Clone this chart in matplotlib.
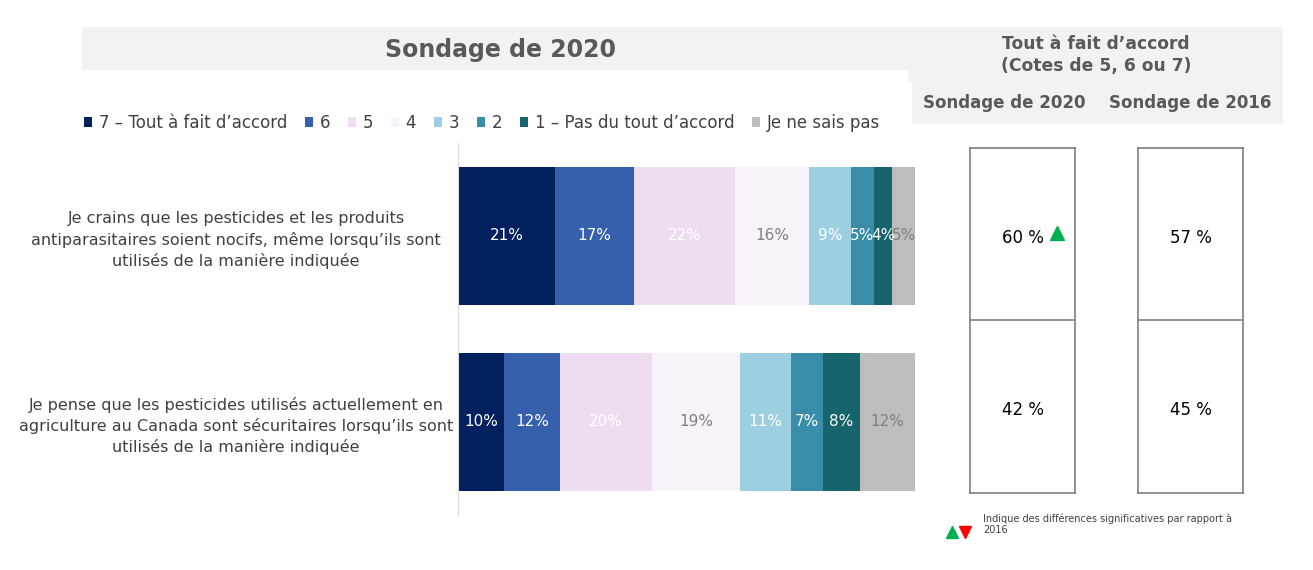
import matplotlib
matplotlib.use("Agg")
import matplotlib.pyplot as plt
from matplotlib.patches import Rectangle, Patch
from matplotlib.lines import Line2D

plt.rcParams['font.family'] = ['DejaVu Sans']

# ---------------- data ----------------
categories = [
    "Je crains que les pesticides et les produits\nantiparasitaires soient nocifs, même lorsqu’ils sont\nutilisés de la manière indiquée",
    "Je pense que les pesticides utilisés actuellement en\nagriculture au Canada sont sécuritaires lorsqu’ils sont\nutilisés de la manière indiquée",
]
levels = ["7 – Tout à fait d’accord", "6", "5", "4", "3", "2",
          "1 – Pas du tout d’accord", "Je ne sais pas"]
row1 = [21, 17, 22, 16, 9, 5, 4, 5]
row2 = [10, 12, 20, 19, 11, 7, 8, 12]
values = [row1, row2]
top3_2020 = [60, 42]
top3_2016 = [57, 45]
sig_2020 = ["up", None]

colors = ["#021F5E", "#3660AB", "#EEDCF1", "#F8F3FA", "#9CCFE1", "#3A8DA8", "#16656D", "#BDBDBD"]
label_colors = ["white", "white", "white", "#7F7F7F", "white", "white", "white", "#7F7F7F"]

W, H = 1313, 570
fig = plt.figure(figsize=(W / 100, H / 100), dpi=100)

def fx(px):
    return px / W

def fy(py):
    return 1 - py / H

# title boxes
fig.patches.append(Rectangle((fx(82), fy(70)), fx(908) - fx(82), fy(27) - fy(70),
                             transform=fig.transFigure, facecolor="#F2F2F2", edgecolor="none", zorder=0))
fig.patches.append(Rectangle((fx(908), fy(82)), fx(1283) - fx(908), fy(27) - fy(82),
                             transform=fig.transFigure, facecolor="#F2F2F2", edgecolor="none", zorder=0))
fig.patches.append(Rectangle((fx(912), fy(124)), fx(1283) - fx(912), fy(82) - fy(124),
                             transform=fig.transFigure, facecolor="#F2F2F2", edgecolor="none", zorder=0))

title_c = "#595959"
fig.text(fx(500), fy(50), "Sondage de 2020", ha="center", va="center",
         fontsize=17, fontweight="bold", color=title_c)
fig.text(fx(1096), fy(55), "Tout à fait d’accord\n(Cotes de 5, 6 ou 7)", ha="center", va="center",
         fontsize=12.3, fontweight="bold", color=title_c, linespacing=1.25)
fig.text(fx(1004), fy(103), "Sondage de 2020", ha="center", va="center",
         fontsize=12, fontweight="bold", color=title_c)
fig.text(fx(1190), fy(103), "Sondage de 2016", ha="center", va="center",
         fontsize=12, fontweight="bold", color=title_c)

# ---------------- stacked bars ----------------
ax = fig.add_axes([fx(458), fy(515), fx(920) - fx(458), fy(143) - fy(515)])
ypos = list(range(len(categories)))
for r, row in enumerate(values):
    left = 0
    for i, v in enumerate(row):
        ax.barh(ypos[r], v, left=left, height=0.737, color=colors[i], edgecolor="none")
        ax.text(left + v / 2, ypos[r], f"{v}%", ha="center", va="center",
                fontsize=11, color=label_colors[i])
        left += v
ax.set_xlim(0, 100)
ax.set_ylim(1.5, -0.5)
ax.set_xticks([])
ax.set_yticks(ypos)
ax.set_yticklabels(categories, fontsize=11.5, color="#404040", ha="center", linespacing=1.4)
ax.tick_params(axis="y", length=0, pad=(458 - 236) * 0.72)
for s in ["top", "right", "bottom"]:
    ax.spines[s].set_visible(False)
ax.spines["left"].set_color("#D9D9D9")

# legend
handles = [Patch(facecolor=c, edgecolor="none") for c in colors]
fig.legend(handles, levels, loc="center left", bbox_to_anchor=(fx(77), fy(123)), ncol=8,
           frameon=False, fontsize=12, labelcolor="#404040", handlelength=0.5, handleheight=0.5,
           handletextpad=0.4, columnspacing=1.05, borderaxespad=0)

# ---------------- summary boxes ----------------
def box(x0, x1, vals, sig):
    bax = fig.add_axes([fx(x0), fy(493), fx(x1) - fx(x0), fy(148) - fy(493)])
    bax.set_xlim(0, 1)
    bax.set_ylim(1.5, -0.5)
    bax.set_xticks([])
    bax.set_yticks([])
    for s in bax.spines.values():
        s.set_color("#7F7F7F")
        s.set_linewidth(1.2)
    bax.axhline(0.5, color="#7F7F7F", linewidth=1.2)
    for i, v in enumerate(vals):
        bax.text(0.5, i + 0.02, f"{v} %", ha="center", va="center", fontsize=12, color="black")
        if sig is not None and sig[i] == "up":
            bax.plot(0.83, i - 0.005, marker="^", markersize=10, color="#00B050", linestyle="none")
        elif sig is not None and sig[i] == "down":
            bax.plot(0.83, i - 0.005, marker="v", markersize=10, color="#FF0000", linestyle="none")

box(970, 1075, top3_2020, sig_2020)
box(1138, 1243, top3_2016, None)

# footnote
fig.text(fx(983), fy(524), "Indique des différences significatives par rapport à\n2016",
         ha="left", va="center", fontsize=7, color="#404040", linespacing=1.1)
fig.add_artist(Line2D([fx(952)], [fy(532)], marker="^", markersize=8, color="#00B050",
                      linestyle="none", transform=fig.transFigure))
fig.add_artist(Line2D([fx(965)], [fy(532)], marker="v", markersize=8, color="#FF0000",
                      linestyle="none", transform=fig.transFigure))

fig.savefig("out.png", dpi=100)
